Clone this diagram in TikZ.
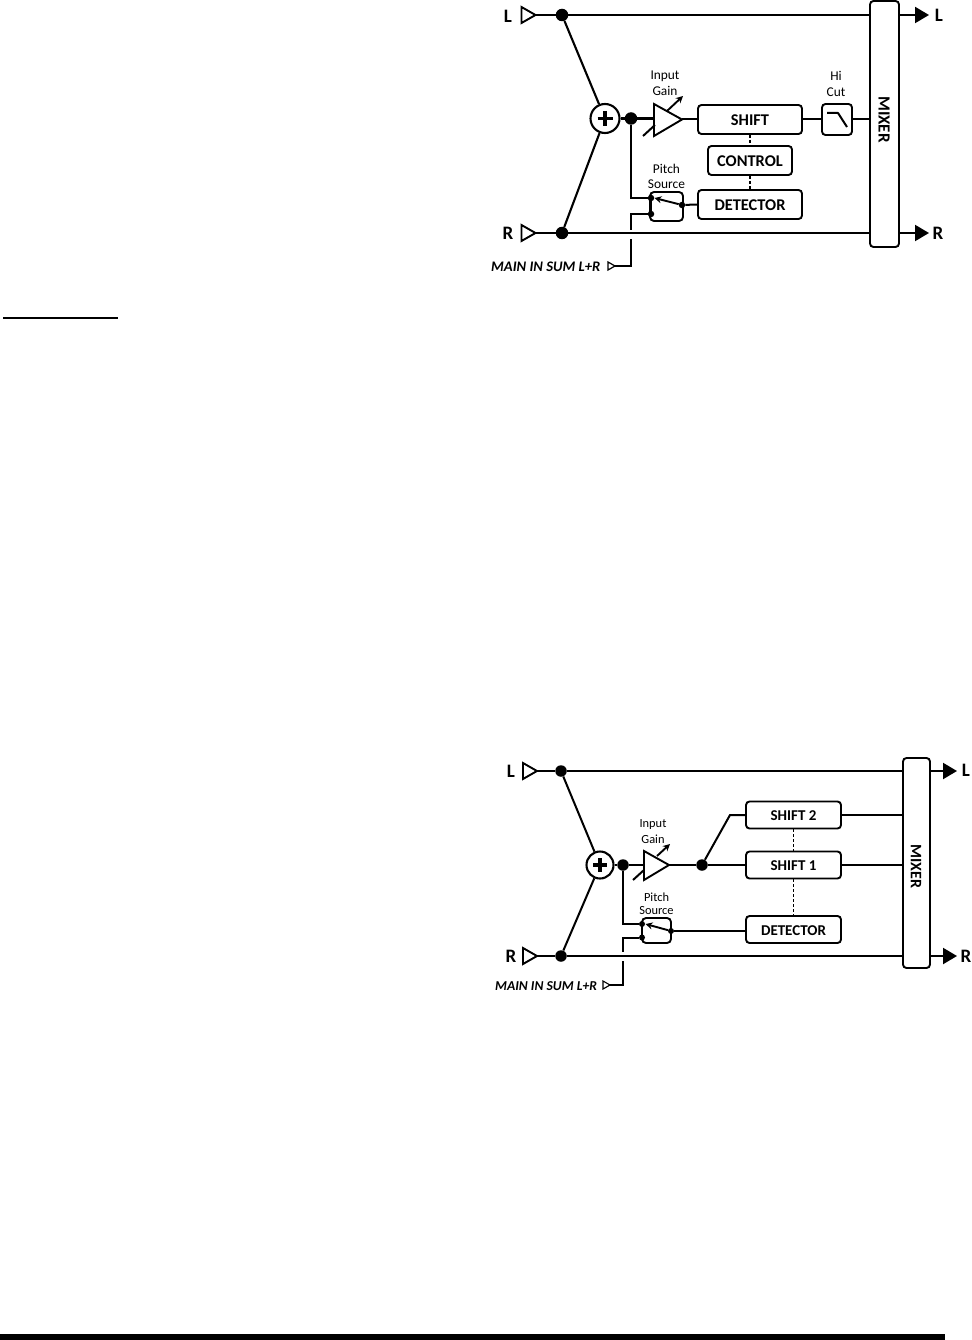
\documentclass[tikz,border=0pt]{standalone}
\usepackage{fontspec}
\setmainfont{Carlito}
\usetikzlibrary{arrows.meta}
\tikzset{
  wire/.style={line width=2.1pt},
  wirethin/.style={line width=2pt},
  dashwire/.style={line width=1.3pt,dash pattern=on 3pt off 2pt},
  block/.style={draw,line width=1.9pt,rounded corners=3.5pt,fill=white,inner sep=0pt,text height=12.5pt,text depth=0pt,font=\bfseries\fontsize{16.4}{16.4}\selectfont},
  blocksm/.style={block,text height=11.5pt,font=\bfseries\fontsize{15}{15}\selectfont},
  sw/.style={draw,line width=1.9pt,rounded corners=4pt,inner sep=0pt},
  sumnode/.style={circle,draw,line width=2.1pt,fill=white,inner sep=0pt,minimum size=#1,font=\bfseries},
  dot/.style={circle,fill=black,inner sep=0pt,minimum size=#1},
  iotext/.style={font=\bfseries\fontsize{19}{19}\selectfont,inner sep=0pt},
  small/.style={font=\fontsize{13.4}{13.4}\selectfont,inner sep=0pt,align=center},
  smallb/.style={font=\fontsize{12.4}{12.4}\selectfont,inner sep=0pt,align=center},
  mainlbl/.style={font=\bfseries\itshape\fontsize{14.6}{14.6}\selectfont,inner sep=0pt},
  mainlblb/.style={font=\bfseries\itshape\fontsize{13.6}{13.6}\selectfont,inner sep=0pt},
  intri/.style={draw,line width=1.9pt,fill=white,line join=miter},
  armtip/.style={-{Stealth[length=7pt,width=7pt]},line width=1.9pt},
  outtip/.style={-{Triangle[length=14pt,width=16pt]},wire},
}
\begin{document}
\begin{tikzpicture}[x=1pt,y=-1pt]
\useasboundingbox (0,0) rectangle (971,1340);
% ---------- top diagram ----------
\node[iotext] (tLi) at (508,16) {L};
\node[iotext] (tRi) at (508,233) {R};
\coordinate (tLin) at (535,15);
\coordinate (tRin) at (535,233);
\node[dot=12.5pt] (tJL) at (562,15) {};
\node[dot=12.5pt] (tJR) at (562,233) {};
\node[block,minimum width=29pt,minimum height=246pt,text height=0pt] (tMix) at (884.5,124) {};
\node[font=\bfseries\fontsize{17}{17}\selectfont,rotate=-90,inner sep=0pt] (tMixT) at (884,119.5) {MIXER};
\coordinate (tMixL) at (tMix.west |- tJL);
\coordinate (tMixR) at (tMix.west |- tJR);
\coordinate (tOutLs) at (tMix.east |- tJL);
\coordinate (tOutRs) at (tMix.east |- tJR);
\coordinate (tOutL) at (929,15);
\coordinate (tOutR) at (929,233);
\node[iotext] (tLo) at (939,15) {L};
\node[iotext] (tRo) at (938,233) {R};
\node[sumnode=29pt] (tSum) at (605,118.5) {};
\node[dot=12.5pt] (tJ2) at (631,118.5) {};
\coordinate (tAmpA) at (654,104);
\coordinate (tAmpB) at (654,136);
\coordinate (tAmpT) at (682,119.5);
\node[block,minimum width=104pt,minimum height=29pt] (tShift) at (750,119.5) {SHIFT};
\node[block,minimum width=84pt,minimum height=29pt] (tCtrl) at (750,160.5) {CONTROL};
\node[block,minimum width=104pt,minimum height=29pt] (tDet) at (750,204.5) {DETECTOR};
\node[block,minimum width=30pt,minimum height=31pt,text height=0pt] (tHi) at (837,119.5) {};
\node[small] (tInput) at (665,76) {Input};
\node[small] (tGain) at (665,91) {Gain};
\node[small] (tPitch) at (666.5,169) {Pitch};
\node[small] (tSource) at (666.5,184.5) {Source};
\node[small] (tHiT) at (836,76) {Hi};
\node[small] (tCut) at (836,92) {Cut};
\node[mainlbl,anchor=west] (tMain) at (491,266.5) {MAIN IN SUM L+R};
\node[sw,minimum width=33pt,minimum height=29pt] (tSw) at (666.5,206.5) {};
\node[dot=6.5pt] (tS1) at (651,198) {};
\node[dot=6.5pt] (tS2) at (651,214) {};
\node[dot=6.5pt] (tS3) at (682,205) {};
\coordinate (tGapA) at (631,230);
\coordinate (tGapB) at (631,239);
\coordinate (tCor) at (631,266);
\coordinate (tIn) at (615,266);

\draw[wire] (tLin) -- (tJL) -- (tMixL);
\draw[wire] (tRin) -- (tJR) -- (tMixR);
\draw[wire] (tJL) -- (tSum);
\draw[wire] (tJR) -- (tSum);
\draw[wire] (tSum) -- (tJ2) -- (tAmpA |- tJ2);
\draw[outtip] (tOutLs) -- (tOutL);
\draw[outtip] (tOutRs) -- (tOutR);
\draw[intri] (521.5,7) -- (535.5,15) -- (521.5,23) -- cycle;
\draw[intri] (521.5,225) -- (535.5,233) -- (521.5,241) -- cycle;
\draw[line width=3.5pt] (597.5,118.5) -- (612.5,118.5) (605,111) -- (605,126);
\draw[intri] (tAmpA) -- (tAmpT) -- (tAmpB) -- cycle;
\draw[armtip] (667,111) -- (683,96);
\draw[wirethin] (643,136) -- (655,125);
\draw[wirethin] (tAmpT) -- (tShift.west);
\draw[wirethin] (tShift.east) -- (tHi.west);
\draw[wirethin] (tHi.east) -- (tMix.west |- tHi.east);
\draw[wirethin,line join=round] (827,113) -- (838,113) -- (847,127);
\draw[dashwire] (tShift.south) -- (tCtrl.north);
\draw[dashwire] (tCtrl.south) -- (tDet.north);
\draw[wirethin] (tJ2) |- (tS1);
\draw[wirethin] (tS1) -- (tS2);
\draw[wirethin] (tS2) -| (tGapA);
\draw[wirethin] (tGapB) -- (tCor) -- (tIn);
\draw[armtip] (tS3) -- (654.5,198);
\draw[wirethin] (tS3) -- (tDet.west);
\draw[line width=1.2pt,fill=white] (608,262) -- (615,266) -- (608,270) -- cycle;

% ---------- bottom diagram ----------
\node[iotext] (bLi) at (511,771) {L};
\node[iotext] (bRi) at (511,956) {R};
\coordinate (bLin) at (537,771);
\coordinate (bRin) at (537,956);
\node[dot=11.5pt] (bJL) at (561,771) {};
\node[dot=11.5pt] (bJR) at (561,956) {};
\node[block,minimum width=27pt,minimum height=210pt,text height=0pt] (bMix) at (916.5,863) {};
\node[font=\bfseries\fontsize{16}{16}\selectfont,rotate=-90,inner sep=0pt] (bMixT) at (916,866.5) {MIXER};
\coordinate (bMixL) at (bMix.west |- bJL);
\coordinate (bMixR) at (bMix.west |- bJR);
\coordinate (bOutLs) at (bMix.east |- bJL);
\coordinate (bOutRs) at (bMix.east |- bJR);
\coordinate (bOutL) at (957,771);
\coordinate (bOutR) at (957,956);
\node[iotext] (bLo) at (966,770) {L};
\node[iotext] (bRo) at (966,956) {R};
\node[sumnode=27pt] (bSum) at (600,865) {};
\node[dot=11.5pt] (bJ2) at (623,865) {};
\node[dot=11.5pt] (bJ3) at (702,865) {};
\coordinate (bAmpA) at (644,851);
\coordinate (bAmpB) at (644,880);
\coordinate (bAmpT) at (669,865);
\node[blocksm,minimum width=95pt,minimum height=27pt] (bS2) at (793.5,815) {SHIFT 2};
\node[blocksm,minimum width=95pt,minimum height=27pt] (bS1) at (793.5,865) {SHIFT 1};
\node[blocksm,minimum width=95pt,minimum height=27pt] (bDet) at (793.5,929.5) {DETECTOR};
\node[smallb] (bInput) at (653,825) {Input};
\node[smallb] (bGain) at (653,839) {Gain};
\node[smallb] (bPitch) at (656.5,897) {Pitch};
\node[smallb] (bSource) at (656.5,911) {Source};
\node[mainlblb,anchor=west] (bMain) at (495,986) {MAIN IN SUM L+R};
\node[sw,minimum width=29pt,minimum height=25pt] (bSw) at (656.5,930.5) {};
\node[dot=6pt] (bT1) at (642,924) {};
\node[dot=6pt] (bT2) at (642,937.5) {};
\node[dot=6pt] (bT3) at (671,931) {};
\coordinate (bGapA) at (623,952);
\coordinate (bGapB) at (623,961);
\coordinate (bCor) at (623,985);
\coordinate (bIn) at (610,985);
\coordinate (bBend) at (730,815);

\draw[wirethin] (bLin) -- (bJL) -- (bMixL);
\draw[wirethin] (bRin) -- (bJR) -- (bMixR);
\draw[wirethin] (bJL) -- (bSum);
\draw[wirethin] (bJR) -- (bSum);
\draw[wirethin] (bSum) -- (bJ2) -- (bAmpA |- bJ2);
\draw[outtip] (bOutLs) -- (bOutL);
\draw[outtip] (bOutRs) -- (bOutR);
\draw[intri] (523,763) -- (537,771) -- (523,779) -- cycle;
\draw[intri] (523,948) -- (537,956) -- (523,964) -- cycle;
\draw[line width=3.5pt] (593,865) -- (607,865) (600,858) -- (600,872);
\draw[intri] (bAmpA) -- (bAmpT) -- (bAmpB) -- cycle;
\draw[armtip] (657,856) -- (670,844);
\draw[wirethin] (633,880) -- (644,870);
\draw[wirethin] (bAmpT) -- (bJ3) -- (bS1.west);
\draw[wirethin] (bJ3) -- (bBend) -- (bS2.west);
\draw[wirethin] (bS2.east) -- (bMix.west |- bS2.east);
\draw[wirethin] (bS1.east) -- (bMix.west |- bS1.east);
\draw[dashwire] (bS2.south) -- (bS1.north);
\draw[dashwire] (bS1.south) -- (bDet.north);
\draw[wirethin] (bJ2) |- (bT1);
\draw[wirethin] (bT1) -- (bT2);
\draw[wirethin] (bT2) -| (bGapA);
\draw[wirethin] (bGapB) -- (bCor) -- (bIn);
\draw[armtip] (bT3) -- (645.5,924);
\draw[wirethin] (bT3) -- (bDet.west |- bT3);
\draw[line width=1.1pt,fill=white] (603,981) -- (610,985) -- (603,989) -- cycle;

% ---------- rules ----------
\fill (3,317) rectangle (118,319);
\fill (0,1334) rectangle (945,1340);
\end{tikzpicture}
\end{document}
